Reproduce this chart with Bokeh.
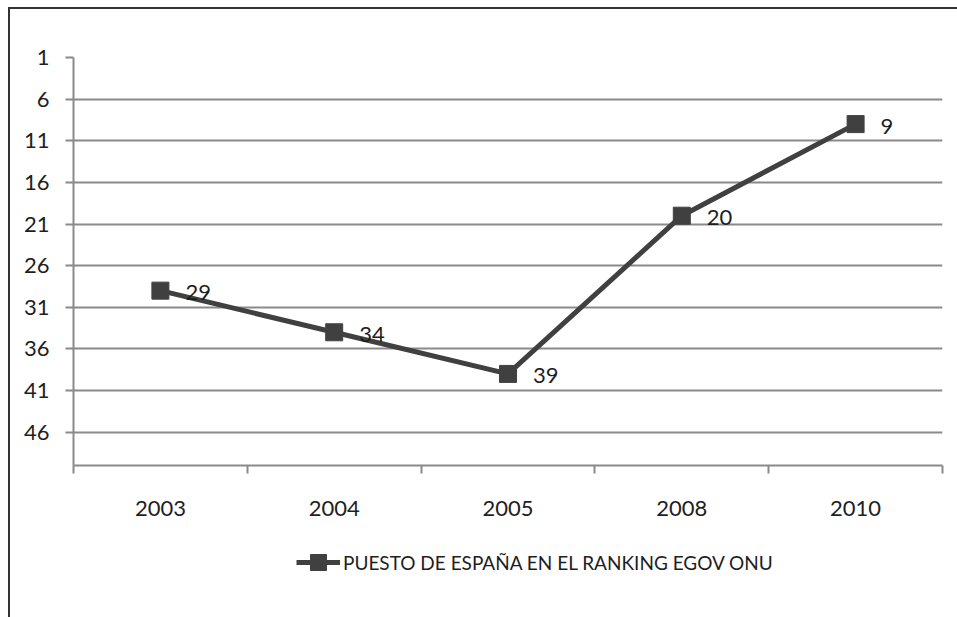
from bokeh.plotting import figure
from bokeh.layouts import column
from bokeh.models import ColumnDataSource, Range1d, FixedTicker, Legend, LegendItem
from bokeh.core.properties import value
from bokeh.embed import file_html
from bokeh.resources import INLINE

# Ranking of Spain in the UN e-Government survey
years = ["2003", "2004", "2005", "2008", "2010"]
ranks = [29, 34, 39, 20, 9]
y_ticks = [1, 6, 11, 16, 21, 26, 31, 36, 41, 46]
series_name = "PUESTO DE ESPAÑA EN EL RANKING EGOV ONU"

FONT = "Lato"
INK = "#1e1e1e"
DARK = "#404040"
GRID = "#8a8a8a"
FS = "22px"

xs = list(range(len(years)))
src = ColumnDataSource(dict(x=xs, y=ranks, label=[str(r) for r in ranks]))

# ---- chart ----
p = figure(width=947, height=530, output_backend="svg", toolbar_location=None,
           x_range=Range1d(-0.5, len(years) - 0.5), y_range=Range1d(50, 1),
           min_border_left=63, min_border_right=15, min_border_top=48,
           min_border_bottom=74)
p.outline_line_color = None
p.background_fill_color = "white"
p.border_fill_color = "white"

xa = p.xaxis[0]
xa.ticker = FixedTicker(ticks=xs, minor_ticks=[i - 0.5 for i in range(len(years) + 1)])
xa.major_label_overrides = {i: y for i, y in enumerate(years)}
xa.major_tick_out = 0
xa.major_tick_in = 0
xa.minor_tick_out = 8
xa.minor_tick_in = 0
xa.minor_tick_line_color = GRID
xa.minor_tick_line_width = 2
xa.axis_line_color = GRID
xa.axis_line_width = 2
xa.major_label_standoff = 27
xa.major_label_text_font = FONT
xa.major_label_text_font_size = FS
xa.major_label_text_color = INK

ya = p.yaxis[0]
ya.ticker = FixedTicker(ticks=y_ticks, minor_ticks=[])
ya.major_tick_out = 8
ya.major_tick_in = 0
ya.major_tick_line_color = GRID
ya.major_tick_line_width = 2
ya.axis_line_color = GRID
ya.axis_line_width = 2
ya.major_label_standoff = 16
ya.major_label_text_font = FONT
ya.major_label_text_font_size = FS
ya.major_label_text_color = INK

p.xgrid.visible = False
p.ygrid.ticker = FixedTicker(ticks=y_ticks)
p.ygrid.grid_line_color = GRID
p.ygrid.grid_line_width = 2

p.line("x", "y", source=src, line_color=DARK, line_width=5)
p.scatter("x", "y", source=src, marker="square", size=17,
          fill_color=DARK, line_color=DARK)
p.text("x", "y", text="label", source=src, x_offset=25, y_offset=2,
       text_baseline="middle", text_align="left", text_font=value(FONT),
       text_font_size=FS, text_color=INK)

# ---- legend strip under the chart ----
# the series is drawn here too, but the strip's y range (0..1) keeps it out of view,
# so only its legend entry shows
lf = figure(width=947, height=78, output_backend="svg", toolbar_location=None,
            x_range=Range1d(0, 1), y_range=Range1d(0, 1),
            x_axis_location=None, y_axis_location=None,
            min_border=0)
lf.grid.visible = False
lf.outline_line_color = None
lf.border_fill_color = "white"
lg_line = lf.line("x", "y", source=src, line_color=DARK, line_width=5)
lg_mark = lf.scatter("x", "y", source=src, marker="square",
                     fill_color=DARK, line_color=DARK)

legend = Legend(items=[LegendItem(label=series_name, renderers=[lg_line, lg_mark])],
                location=(223, 35), orientation="horizontal",
                glyph_width=44, glyph_height=40, label_standoff=3,
                padding=0, margin=0, border_line_color=None,
                background_fill_alpha=0, label_text_font=FONT,
                label_text_font_size="19px", label_text_color=INK)
lf.add_layout(legend, "center")

page = column(p, lf, spacing=0)
# frame lines on the left and top
page.margin = (7, 0, 0, 8)
page.styles = {"border-left": "2px solid #333333", "border-top": "2px solid #333333"}

open("out.html", "w").write(file_html(page, INLINE))
